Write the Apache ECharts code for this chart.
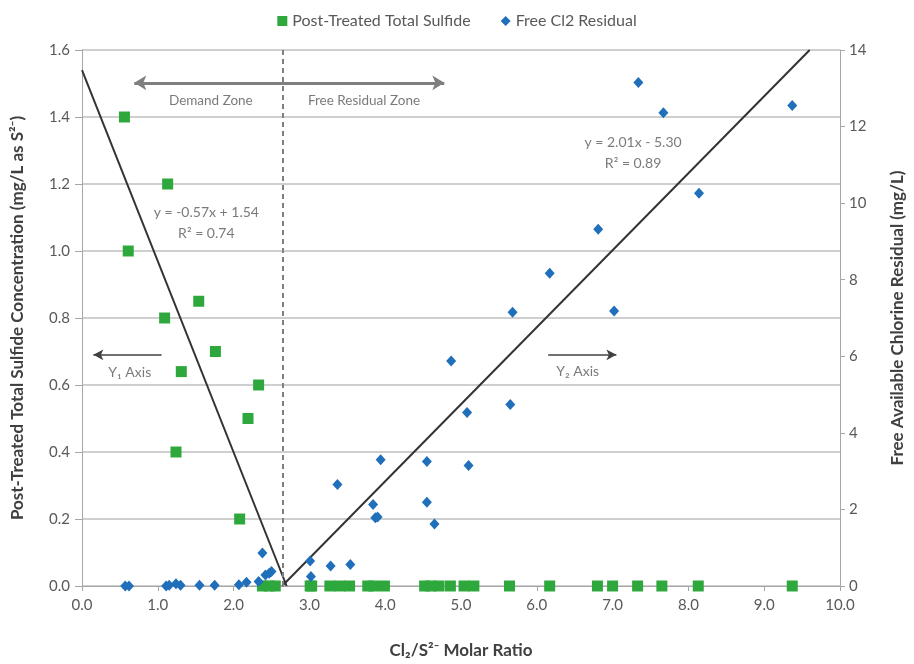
<!DOCTYPE html>
<html><head><meta charset="utf-8">
<script src="https://cdn.jsdelivr.net/npm/echarts@6/dist/echarts.min.js"></script>
<style>html,body{margin:0;padding:0;background:#fff}#c{width:914px;height:664px}</style>
</head><body><div id="c"></div>
<script>
// ---- data ----
const xTicks = [0,1,2,3,4,5,6,7,8,9,10];
const sulfideX = [0.56,1.13,0.61,1.09,1.54,1.76,1.31,2.33,2.19,1.24,2.08,
  2.38,2.47,2.55,3.01,3.03,3.27,3.40,3.53,3.77,3.85,3.99,4.52,4.60,4.71,4.86,5.04,5.17,5.64,6.17,6.80,7.00,7.33,7.65,8.13,9.37];
const sulfideY = [1.40,1.20,1.00,0.80,0.85,0.70,0.64,0.60,0.50,0.40,0.20,
  0,0,0,0,0,0,0,0,0,0,0,0,0,0,0,0,0,0,0,0,0,0,0,0,0];
const chlorineX = [0.57,0.62,1.11,1.15,1.24,1.30,1.55,1.75,2.07,2.17,2.33,2.38,2.42,2.47,2.50,
  3.01,3.02,3.28,3.54,3.37,3.84,3.87,3.90,3.94,4.55,4.55,4.65,4.87,5.08,5.10,5.65,5.68,6.17,6.81,7.02,7.34,7.67,8.14,9.37];
const chlorineY = [0,0,0,0.02,0.06,0.02,0.02,0.02,0.03,0.10,0.12,0.86,0.29,0.33,0.38,
  0.65,0.25,0.52,0.56,2.65,2.13,1.78,1.80,3.30,3.25,2.19,1.62,5.88,4.53,3.15,4.74,7.15,8.17,9.32,7.18,13.15,12.36,10.26,12.55];
// trendline endpoints (from the shown equations)
const demandTrendX = [0, 2.70];
const demandTrendY = [1.54, 0];
const residualTrendX = [2.64, 9.60];
const residualTrendY = [0, 14];
const boundaryX = 2.65;

const sulfideData = sulfideX.map((x,i)=>[x, sulfideY[i]]);
const chlorineData = chlorineX.map((x,i)=>[x, chlorineY[i]]);
const demandTrend = demandTrendX.map((x,i)=>[x, demandTrendY[i]]);
const residualTrend = residualTrendX.map((x,i)=>[x, residualTrendY[i]]);

const FONT = "Lato,'Liberation Sans',sans-serif";
const TXT = '#595959';
const chart = echarts.init(document.getElementById('c'));

function note(x, y, text, size){
  return {value:[x,y], label:{show:true, position:'inside', formatter:text, fontSize:size||14, color:TXT, fontFamily:FONT}};
}

chart.setOption({
  animation:false,
  textStyle:{fontFamily:FONT},
  legend:{
    top:8, left:'center', itemGap:30, itemWidth:10, itemHeight:10,
    textStyle:{fontSize:16, color:TXT, fontFamily:FONT},
    data:[{name:'Post-Treated Total Sulfide', icon:'rect'},{name:'Free Cl2 Residual', icon:'diamond'}]
  },
  grid:{left:82, right:69, top:50, bottom:76, containLabel:false},
  xAxis:{
    type:'value', min:0, max:10, interval:1,
    name:'Cl₂/S²⁻ Molar Ratio', nameLocation:'middle', nameGap:56,
    nameTextStyle:{fontSize:17, fontWeight:'bold', color:'#404040', fontFamily:FONT},
    axisLine:{show:true, lineStyle:{color:'#a6a6a6', width:1}},
    axisTick:{show:true, length:5, lineStyle:{color:'#a6a6a6'}},
    axisLabel:{fontSize:15, color:TXT, margin:12, formatter:v=>v.toFixed(1)},
    splitLine:{show:false}
  },
  yAxis:[{
    type:'value', min:0, max:1.6, interval:0.2, position:'left',
    name:'Post-Treated Total Sulfide Concentration (mg/L as S²⁻)', nameLocation:'middle', nameGap:56,
    nameTextStyle:{fontSize:17, fontWeight:'bold', color:'#404040', fontFamily:FONT},
    axisLine:{show:true, lineStyle:{color:'#a6a6a6', width:1}},
    axisTick:{show:true, length:7, lineStyle:{color:'#a6a6a6'}},
    axisLabel:{fontSize:15, color:TXT, margin:12, formatter:v=>v.toFixed(1)},
    splitLine:{show:true, lineStyle:{color:'#bfbfbf', width:1.5}}
  },{
    type:'value', min:0, max:14, interval:2, position:'right',
    name:'Free Available Chlorine Residual (mg/L)', nameLocation:'middle', nameGap:49,
    nameTextStyle:{fontSize:17, fontWeight:'bold', color:'#404040', fontFamily:FONT},
    axisLine:{show:true, lineStyle:{color:'#a6a6a6', width:1}},
    axisTick:{show:true, length:5, lineStyle:{color:'#a6a6a6'}},
    axisLabel:{fontSize:15, color:TXT, margin:9},
    splitLine:{show:false}
  }],
  series:[
    {name:'demandTrend', type:'line', yAxisIndex:0, data:demandTrend, symbol:'none', silent:true,
     lineStyle:{color:'#333333', width:2}, z:3},
    {name:'residualTrend', type:'line', yAxisIndex:1, data:residualTrend, symbol:'none', silent:true,
     lineStyle:{color:'#333333', width:2}, z:3},
    {name:'Post-Treated Total Sulfide', type:'scatter', yAxisIndex:0, data:sulfideData,
     symbol:'rect', symbolSize:11, itemStyle:{color:'#2ea83c', opacity:1}, z:4},
    {name:'Free Cl2 Residual', type:'scatter', yAxisIndex:1, data:chlorineData,
     symbol:'diamond', symbolSize:[10,11], itemStyle:{color:'#1f6fba', opacity:1}, z:5},
    {name:'notes', type:'scatter', yAxisIndex:0, silent:true, symbolSize:1,
     itemStyle:{color:'transparent'}, z:6,
     data:[
       note(1.70,1.448,'Demand Zone',13.5),
       note(3.72,1.448,'Free Residual Zone',13.5),
       note(1.64,1.115,'y = -0.57x + 1.54'),
       note(1.64,1.053,'R² = 0.74'),
       note(7.27,1.323,'y = 2.01x - 5.30'),
       note(7.27,1.261,'R² = 0.89'),
       note(0.63,0.636,'Y₁ Axis'),
       note(6.54,0.639,'Y₂ Axis')
     ],
     markLine:{
       silent:true, animation:false, label:{show:false},
       data:[
         [{coord:[boundaryX,0], symbol:'none', lineStyle:{color:'#7f7f7f', width:2, type:[5,4]}},
          {coord:[boundaryX,1.6], symbol:'none'}],
         [{coord:[0.69,1.502], symbol:'arrow', symbolSize:[11,12], lineStyle:{color:'#7f7f7f', width:3, type:'solid'}},
          {coord:[4.78,1.502], symbol:'arrow', symbolSize:[11,12]}],
         [{coord:[1.05,0.69], symbol:'none', lineStyle:{color:'#404040', width:1.5, type:'solid'}},
          {coord:[0.15,0.69], symbol:'arrow', symbolSize:[8,10]}],
         [{coord:[6.15,0.69], symbol:'none', lineStyle:{color:'#404040', width:1.5, type:'solid'}},
          {coord:[7.05,0.69], symbol:'arrow', symbolSize:[8,10]}]
       ]
     }}
  ]
});
</script>
</body></html>
